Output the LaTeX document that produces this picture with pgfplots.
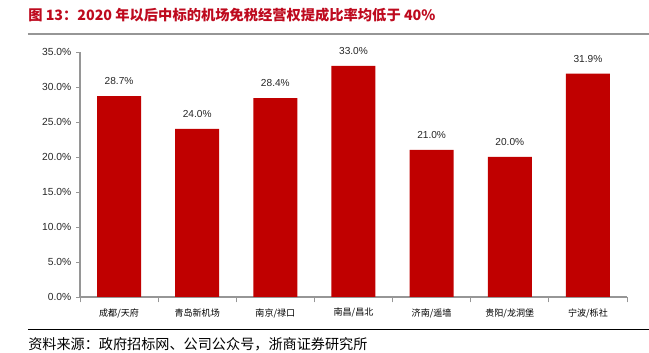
\documentclass[border=0pt]{standalone}
\usepackage{pgfplots}
\pgfplotsset{compat=1.18}
\usepackage{fontspec}
\setmainfont{Liberation Sans}
\newfontfamily\cjk{Noto Sans CJK SC}
\definecolor{barred}{RGB}{192,0,0}
\definecolor{titlered}{RGB}{190,10,30}
\definecolor{axisgray}{RGB}{150,150,150}
\begin{document}
\begin{tikzpicture}[x=1pt,y=1pt]
\begin{axis}[
  scale only axis, width=410.25pt, height=183.75pt,
  xmin=-0.5, xmax=6.5, ymin=0, ymax=35,
  axis lines*=left,
  axis line style={axisgray, line width=0.8pt},
  ybar, bar width=33pt,
  xtick={0,...,6},
  xticklabels={成都/天府,青岛新机场,南京/禄口,南昌/昌北,济南/遥墙,贵阳/龙洞堡,宁波/栎社},
  xticklabel style={font=\cjk\fontsize{6.8}{8}\selectfont, yshift=-2pt},
  major x tick style={draw=none},
  minor xtick={-0.5,0.5,...,6.5},
  minor tick length=4pt,
  minor x tick style={axisgray, line width=0.6pt},
  ytick={0,5,...,35},
  yticklabels={0.0\%,5.0\%,10.0\%,15.0\%,20.0\%,25.0\%,30.0\%,35.0\%},
  yticklabel style={font=\fontsize{7.7}{9}\selectfont, text=black!85},
  major y tick style={axisgray, line width=0.6pt},
  major tick length=3pt,
  tick align=outside,
  tick pos=left,
  /pgf/number format/assume math mode=true,
  nodes near coords={\pgfmathprintnumber[fixed,fixed zerofill,precision=1]{\pgfplotspointmeta}\%},
  every node near coord/.append style={font=\fontsize{7.6}{9}\selectfont, text=black!85, yshift=5pt},
]
\addplot[fill=barred, draw=none] coordinates {(0,28.7) (1,24.0) (2,28.4) (3,33.0) (4,21.0) (5,20.0) (6,31.9)};
\coordinate (O) at (rel axis cs:0,0);
\end{axis}
\begin{scope}[shift={(O)}, shift={(-60,-42)}]
\useasboundingbox (0,0) rectangle (486.75,264.75);
\node[anchor=west,inner sep=0pt,text=titlered,font=\cjk\bfseries\fontsize{10.7}{13}\selectfont] at (21,253.5) {图\ 13：2020 年以后中标的机场免税经营权提成比率均低于 40\%};
\draw[axisgray,line width=1.6pt] (21,239) -- (486.75,239);
\draw[black,line width=0.7pt] (21,17.5) -- (486.75,17.5);
\node[anchor=west,inner sep=0pt,font=\cjk\fontsize{10.6}{12}\selectfont] at (21,6.5) {资料来源：政府招标网、公司公众号，浙商证券研究所};
\end{scope}
\end{tikzpicture}
\end{document}
